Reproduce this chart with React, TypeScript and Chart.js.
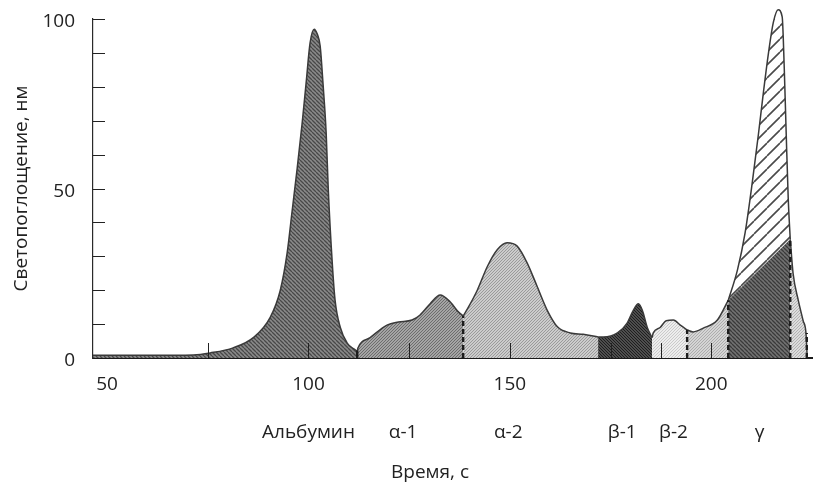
import React, { useEffect, useRef } from 'react';
import { Chart, registerables } from 'chart.js';

Chart.register(...registerables);

type Pt = [number, number];

// Densitogram (time in s, absorbance) split into protein fractions
const albumin: Pt[] = [
  [46.5, 0.8], [60.7, 0.8], [71.4, 0.9], [75.6, 1.5], [81.3, 3], [86.3, 6], [90.5, 12],
  [93.0, 20], [94.7, 31], [95.9, 43], [97.2, 56], [98.4, 69], [99.4, 81], [100.4, 93],
  [101.4, 97], [102.2, 95.5], [102.9, 92], [103.6, 81], [104.4, 66], [104.9, 50],
  [105.9, 28], [106.6, 17], [107.9, 9], [109.6, 4.4], [111.6, 2.4], [112.1, 2.0],
];
const alpha1: Pt[] = [
  [112.1, 2.0], [112.3, 3], [115.3, 6], [119.5, 9.7], [122.3, 10.6], [125.7, 11.2],
  [127.7, 12.7], [130.2, 16], [132.7, 18.6], [135.2, 16.5], [137.2, 13.6], [138.4, 12.4],
];
const alpha2: Pt[] = [
  [138.4, 12.4], [139.7, 15], [141.9, 20], [144.4, 27], [146.9, 32], [149.3, 34],
  [151.8, 33], [154.3, 28], [156.8, 21], [159.3, 14], [161.8, 9.2], [165.0, 7.4],
  [168.2, 7], [171.9, 6.2],
];
const beta1: Pt[] = [
  [171.9, 6.2], [173.2, 6.2], [176.7, 7.4], [179.1, 10.3], [180.6, 14], [181.9, 16],
  [182.9, 14], [184.1, 9], [185.3, 6],
];
const beta2: Pt[] = [
  [185.3, 6], [185.6, 7.4], [187.3, 9], [188.8, 11], [190.6, 11.2], [192.3, 9.7], [194.0, 8.3],
];
const beta3: Pt[] = [
  [194.0, 8.3], [195.5, 7.7], [198.0, 8.8], [201.5, 11.2], [204.2, 17],
];
const gamma: Pt[] = [
  [204.2, 17], [206.5, 26], [208.4, 37], [210.2, 52], [211.7, 66], [212.9, 78],
  [214.2, 90], [215.4, 99], [216.6, 102.7], [217.6, 100.6], [218.1, 86], [218.6, 66],
  [219.1, 47], [219.6, 35],
];
const gammaTail: Pt[] = [
  [219.6, 35], [220.3, 25], [221.6, 17], [222.8, 11], [223.5, 7.4], [223.8, 0.5],
];
const gammaLower: Pt[] = [[204.2, 17], [219.6, 35]];
const solidBoundaries: Pt[] = [[112.1, 2.2]];
const dashedBoundaries: Pt[] = [[138.4, 12.4], [194.0, 8.3], [204.2, 17], [219.6, 35], [223.7, 7.4]];

const xTickValues = [50, 100, 150, 200];
const yTickValues = [0, 50, 100];
const yMinorTicks = [10, 20, 30, 40, 50, 60, 70, 80, 90, 100];
const xMinorTicks = [75, 100, 125, 150, 175, 187.5, 200];
const fractionNames = ['Альбумин', 'α-1', 'α-2', 'β-1', 'β-2', 'γ'];
const fractionLabelTimes = [100, 123.5, 149.6, 177.9, 190.6, 212];

const FONT = "'Open Sans', sans-serif";
const INK = '#222222';

function makePattern(base: string, ink: string, size: number, width: number, dir: 1 | -1) {
  const c = document.createElement('canvas');
  c.width = size;
  c.height = size;
  const g = c.getContext('2d')!;
  g.fillStyle = base;
  g.fillRect(0, 0, size, size);
  g.strokeStyle = ink;
  g.lineWidth = width;
  g.beginPath();
  for (let k = -1; k <= 1; k++) {
    if (dir === 1) {
      g.moveTo(k * size, size);
      g.lineTo(k * size + size, 0);
    } else {
      g.moveTo(k * size, 0);
      g.lineTo(k * size + size, size);
    }
  }
  g.stroke();
  return g.createPattern(c, 'repeat')!;
}

export default function App() {
  const ref = useRef<HTMLCanvasElement>(null);

  useEffect(() => {
    const canvas = ref.current!;
    const toXY = (a: Pt[]) => a.map(([x, y]) => ({ x, y }));
    const OUTLINE = '#3a3a3a';
    const area = (data: Pt[], fill: any, order = 2, extra: any = {}) => ({
      data: toXY(data),
      backgroundColor: fill,
      borderColor: OUTLINE,
      borderWidth: 1.5,
      fill: 'origin',
      pointRadius: 0,
      cubicInterpolationMode: 'monotone',
      order,
      clip: false,
      ...extra,
    });
    const boundary = (b: Pt, dashed: boolean) => ({
      data: [{ x: b[0], y: 0 }, { x: b[0], y: b[1] }],
      borderColor: '#1c1c1c',
      borderWidth: 2.4,
      borderDash: dashed ? [5, 3] : [],
      fill: false,
      pointRadius: 0,
      order: 0,
      clip: false,
    });

    const datasets: any[] = [
      area(albumin, makePattern('#8a8a8a', '#484848', 4, 1.3, -1)),
      area(alpha1, makePattern('#a4a4a4', '#6c6c6c', 3, 1, 1)),
      area(alpha2, makePattern('#cccccc', '#9a9a9a', 3, 1, 1)),
      area(beta1, makePattern('#4e4e4e', '#1e1e1e', 3, 1, -1)),
      area(beta2, makePattern('#ededed', '#cacaca', 3, 1, 1)),
      area(beta3, makePattern('#d4d4d4', '#acacac', 3, 1, 1)),
      area(gamma, makePattern('#ffffff', '#4a4a4a', 13, 1.6, 1), 3),
      area(gammaLower, makePattern('#727272', '#3a3a3a', 4, 1.3, -1), 1, { borderWidth: 0, cubicInterpolationMode: 'default', tension: 0 }),
      area(gammaTail, makePattern('#dcdcdc', '#b2b2b2', 3, 1, 1)),
      ...solidBoundaries.map((b) => boundary(b, false)),
      ...dashedBoundaries.map((b) => boundary(b, true)),
    ];

    const tickMarks = {
      id: 'tickMarks',
      afterDatasetsDraw(chart: any) {
        const { ctx, chartArea, scales } = chart;
        ctx.save();
        ctx.strokeStyle = INK;
        ctx.lineWidth = 1;
        for (const v of yMinorTicks) {
          const y = Math.round(scales.y.getPixelForValue(v)) + 0.5;
          ctx.beginPath();
          ctx.moveTo(chartArea.left, y);
          ctx.lineTo(chartArea.left + 12, y);
          ctx.stroke();
        }
        for (const v of xMinorTicks) {
          const x = Math.round(scales.x.getPixelForValue(v)) + 0.5;
          ctx.beginPath();
          ctx.moveTo(x, chartArea.bottom);
          ctx.lineTo(x, chartArea.bottom - 15);
          ctx.stroke();
        }
        ctx.restore();
      },
    };

    const xTitle = {
      id: 'xTitle',
      afterDraw(chart: any) {
        const { ctx } = chart;
        ctx.save();
        ctx.font = `19px ${FONT}`;
        ctx.fillStyle = INK;
        ctx.textAlign = 'center';
        ctx.textBaseline = 'middle';
        ctx.fillText('Время, с', 430, 473);
        ctx.restore();
      },
    };

    const chart = new Chart(canvas, {
      type: 'line',
      data: { datasets },
      options: {
        responsive: false,
        animation: false,
        layout: { padding: { top: 19, right: 9, left: 0, bottom: 0 } },
        plugins: { legend: { display: false }, tooltip: { enabled: false } },
        font: { family: FONT },
        scales: {
          x: {
            type: 'linear',
            min: 46.5,
            max: 225,
            z: 1,
            weight: 0,
            grid: { display: false, drawTicks: false },
            border: { display: true, color: '#1a1a1a', width: 2 },
            afterBuildTicks: (s: any) => {
              s.ticks = xTickValues.map((value) => ({ value }));
            },
            afterFit: (s: any) => {
              s.height = 36;
            },
            ticks: {
              padding: 15,
              autoSkip: false,
              maxRotation: 0,
              color: INK,
              font: { family: FONT, size: 19 },
            },
          },
          x2: {
            type: 'linear',
            position: 'bottom',
            min: 46.5,
            max: 225,
            weight: 1,
            grid: { display: false, drawTicks: false },
            border: { display: false },
            afterBuildTicks: (s: any) => {
              s.ticks = fractionLabelTimes.map((value) => ({ value }));
            },
            afterFit: (s: any) => {
              s.height = 94;
            },
            ticks: {
              padding: 27,
              autoSkip: false,
              maxRotation: 0,
              color: INK,
              font: { family: FONT, size: 19 },
              callback: (value: any) => fractionNames[fractionLabelTimes.indexOf(Number(value))] ?? '',
            },
          },
          y: {
            type: 'linear',
            min: 0,
            max: 100,
            z: 1,
            grid: {
              display: true,
              drawOnChartArea: false,
              drawTicks: true,
              tickLength: 18,
              color: 'rgba(0,0,0,0)',
            },
            border: { display: true, color: '#2a2a2a', width: 1.2 },
            afterBuildTicks: (s: any) => {
              s.ticks = yTickValues.map((value) => ({ value }));
            },
            afterFit: (s: any) => {
              s.width = 93;
            },
            ticks: {
              padding: 0,
              labelOffset: 3,
              color: INK,
              font: { family: FONT, size: 19 },
            },
            title: {
              display: true,
              text: 'Светопоглощение, нм',
              color: INK,
              font: { family: FONT, size: 19 },
              padding: { top: 10.6, bottom: 0 },
            },
          },
        },
      } as any,
      plugins: [tickMarks, xTitle],
    });

    return () => chart.destroy();
  }, []);

  return (
    <div style={{ position: 'fixed', left: 0, top: 0, width: 821, height: 488, background: '#fff' }}>
      <canvas ref={ref} width={821} height={488} style={{ display: 'block' }} />
    </div>
  );
}
